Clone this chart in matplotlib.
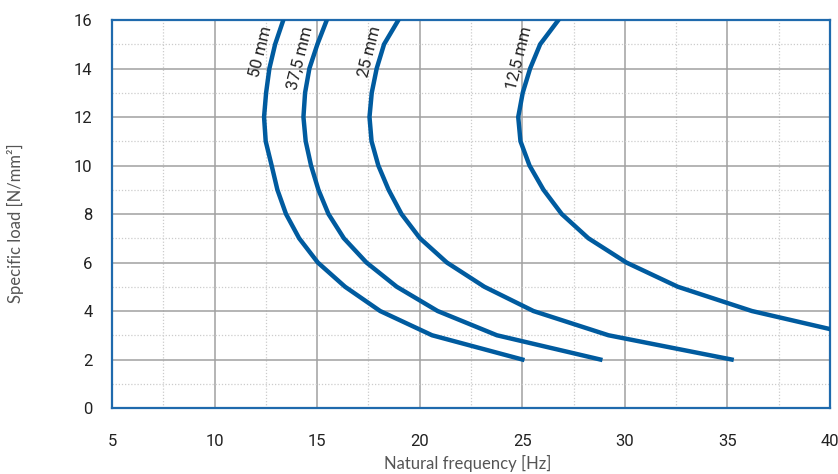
import matplotlib
matplotlib.use('Agg')
import matplotlib.pyplot as plt
from matplotlib.ticker import MultipleLocator

# Specific load [N/mm2] for every curve
carga = [2, 3, 4, 5, 6, 7, 8, 9, 10, 11, 12, 13, 14, 15, 16]

# Natural frequency [Hz] read for every thickness
freq_50 = [25.0, 20.6, 18.07, 16.36, 15.03, 14.12, 13.48, 13.06, 12.78, 12.49, 12.41, 12.51, 12.67, 12.95, 13.35]
freq_375 = [28.8, 23.76, 20.87, 18.88, 17.4, 16.3, 15.55, 15.06, 14.7, 14.44, 14.33, 14.41, 14.62, 15.01, 15.47]
freq_25 = [35.2, 29.2, 25.54, 23.15, 21.32, 20.01, 19.11, 18.48, 17.98, 17.65, 17.55, 17.66, 17.9, 18.26, 18.96]
freq_125 = [41.3, 36.19, 32.58, 30.07, 28.22, 26.92, 26.03, 25.35, 24.91, 24.8, 25.02, 25.38, 25.87, 26.76]
carga_125 = [3, 4, 5, 6, 7, 8, 9, 10, 11, 12, 13, 14, 15, 16]

rotulos = ['50 mm', '37,5 mm', '25 mm', '12,5 mm']
pos_rotulos = [(12.26, 14.7), (14.2, 14.43), (17.58, 14.68), (24.84, 14.43)]

azul = '#005b9f'

fig = plt.figure(figsize=(8.38, 4.74), dpi=100)
ax = fig.add_axes([0.1337, 0.1392, 0.8568, 0.8186])

ax.plot(freq_50, carga, color=azul, linewidth=3.2, solid_joinstyle='miter', zorder=3)
ax.plot(freq_375, carga, color=azul, linewidth=3.2, solid_joinstyle='miter', zorder=3)
ax.plot(freq_25, carga, color=azul, linewidth=3.2, solid_joinstyle='miter', zorder=3)
ax.plot(freq_125, carga_125, color=azul, linewidth=3.2, solid_joinstyle='miter', zorder=3)

for texto, (x, y) in zip(rotulos, pos_rotulos):
    ax.text(x, y, texto, rotation=76, ha='center', va='center',
            fontsize=12, family='Roboto', color='#222222', zorder=4)

ax.set_xlim(5, 40)
ax.set_ylim(0, 16)
ax.xaxis.set_major_locator(MultipleLocator(5))
ax.xaxis.set_minor_locator(MultipleLocator(2.5))
ax.yaxis.set_major_locator(MultipleLocator(2))
ax.yaxis.set_minor_locator(MultipleLocator(1))

ax.grid(which='major', color='#a0a0a0', linewidth=1.1, linestyle='-')
ax.grid(which='minor', color='#cccccc', linewidth=0.9, linestyle=(0, (1, 1.5)))
ax.set_axisbelow(True)

for s in ax.spines.values():
    s.set_color('#1f6aad')
    s.set_linewidth(1.6)

ax.tick_params(which='both', length=0)
ax.tick_params(axis='x', pad=19, labelsize=12, labelcolor='#222222')
ax.tick_params(axis='y', pad=14, labelsize=12, labelcolor='#222222')
for lab in ax.get_xticklabels() + ax.get_yticklabels():
    lab.set_family('Roboto')

fig.text(0.5585, 0.023, 'Natural frequency [Hz]', ha='center', va='center',
         fontsize=12, family='Lato', color='#555555')
fig.text(0.018, 0.53, 'Specific load [N/mm²]', ha='center', va='center',
         fontsize=12, family='Lato', color='#555555', rotation='vertical')

plt.savefig('out.png', dpi=100)
